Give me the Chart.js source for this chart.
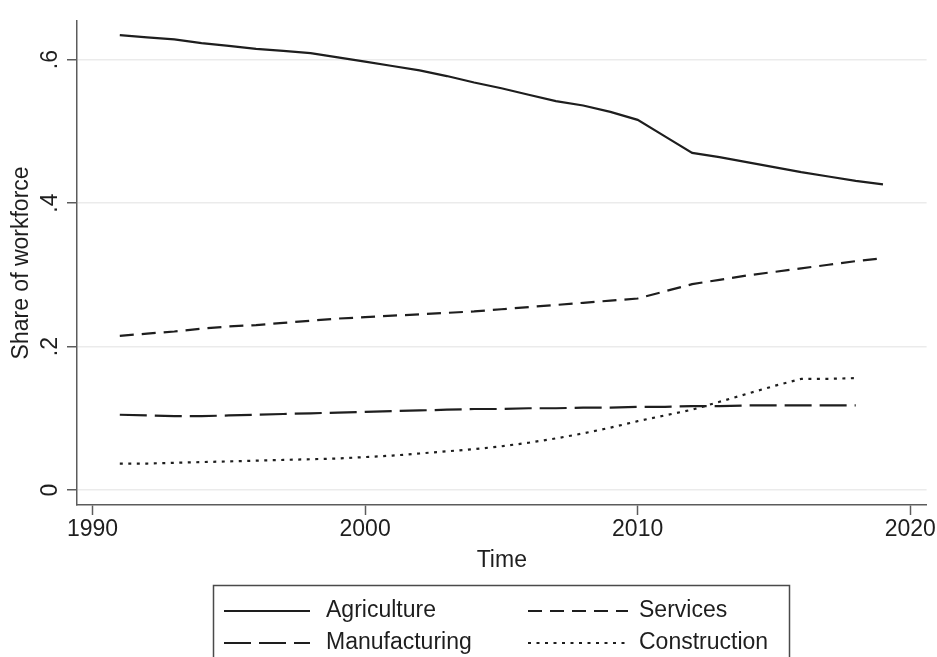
<!DOCTYPE html>
<html>
<head>
<meta charset="utf-8">
<title>Share of workforce by sector</title>
<script src="https://cdn.jsdelivr.net/npm/chart.js@4.4.1/dist/chart.umd.min.js"></script>
<style>
  html, body { margin: 0; padding: 0; background: #ffffff; }
  #wrap { width: 937px; height: 657px; overflow: hidden; }
  canvas { display: block; }
</style>
</head>
<body>
<div id="wrap"><canvas id="chart" width="937" height="657" style="width:937px;height:657px"></canvas></div>
<script>
// Sector shares of the workforce, 1991-2019
const years = [1991, 1992, 1993, 1994, 1995, 1996, 1997, 1998, 1999, 2000,
               2001, 2002, 2003, 2004, 2005, 2006, 2007, 2008, 2009, 2010,
               2011, 2012, 2013, 2014, 2015, 2016, 2017, 2018, 2019];

const agriculture = [0.634, 0.631, 0.628, 0.623, 0.619, 0.615, 0.612, 0.609, 0.603, 0.597,
                     0.591, 0.585, 0.577, 0.568, 0.560, 0.551, 0.542, 0.536, 0.527, 0.516,
                     0.493, 0.470, 0.464, 0.457, 0.450, 0.443, 0.437, 0.431, 0.426];

const services = [0.215, 0.218, 0.221, 0.225, 0.228, 0.230, 0.233, 0.236, 0.239, 0.241,
                  0.243, 0.245, 0.247, 0.249, 0.252, 0.255, 0.258, 0.261, 0.264, 0.267,
                  0.277, 0.287, 0.293, 0.299, 0.304, 0.309, 0.314, 0.319, 0.323];

const manufacturing = [0.105, 0.104, 0.103, 0.103, 0.104, 0.105, 0.106, 0.107, 0.108, 0.109,
                       0.110, 0.111, 0.112, 0.113, 0.113, 0.114, 0.114, 0.115, 0.115, 0.116,
                       0.116, 0.117, 0.117, 0.118, 0.118, 0.118, 0.118, 0.118];

const construction = [0.037, 0.037, 0.038, 0.039, 0.040, 0.041, 0.042, 0.043, 0.044, 0.046,
                      0.048, 0.051, 0.054, 0.057, 0.061, 0.066, 0.072, 0.079, 0.087, 0.096,
                      0.104, 0.112, 0.123, 0.134, 0.145, 0.155, 0.155, 0.156];

const seriesNames = ['Agriculture', 'Services', 'Manufacturing', 'Construction'];

const xTickValues = [1990, 2000, 2010, 2020];
const yTickValues = [0, 0.2, 0.4, 0.6];
const yTickLabels = ['0', '.2', '.4', '.6'];

const FONT = "'Liberation Sans', Arial, Helvetica, sans-serif";
const INK = '#1e1e1e';
const AXIS = '#5c5c5c';

function points(values) {
  return values.map((v, i) => ({ x: years[i], y: v }));
}

function lineSet(label, values, dash) {
  return {
    label: label,
    data: points(values),
    borderColor: INK,
    borderWidth: 2.2,
    borderDash: dash,
    borderCapStyle: 'butt',
    pointRadius: 0,
    pointHoverRadius: 0,
    tension: 0,
    fill: false
  };
}

// Boxed two-column legend under the plot, styled from each dataset
const boxedLegend = {
  id: 'boxedLegend',
  afterDraw(chart, args, opts) {
    const ctx = chart.ctx;
    ctx.save();
    ctx.setLineDash([]);
    ctx.lineWidth = 1.5;
    ctx.strokeStyle = '#4a4a4a';
    ctx.strokeRect(opts.left, opts.top, opts.width, opts.height);
    chart.data.datasets.forEach((ds, i) => {
      const col = i % 2;
      const row = Math.floor(i / 2);
      const y = opts.rowY[row];
      ctx.save();
      ctx.lineWidth = ds.borderWidth;
      ctx.strokeStyle = ds.borderColor;
      ctx.lineCap = 'butt';
      ctx.setLineDash(ds.borderDash || []);
      ctx.beginPath();
      ctx.moveTo(opts.lineX[col][0], y);
      ctx.lineTo(opts.lineX[col][1], y);
      ctx.stroke();
      ctx.restore();
      ctx.fillStyle = INK;
      ctx.font = '23px ' + FONT;
      ctx.textAlign = 'left';
      ctx.textBaseline = 'middle';
      ctx.fillText(ds.label, opts.textX[col], y);
    });
    ctx.restore();
  }
};

new Chart(document.getElementById('chart'), {
  type: 'line',
  data: {
    datasets: [
      lineSet(seriesNames[0], agriculture, []),
      lineSet(seriesNames[1], services, [14, 8]),
      lineSet(seriesNames[2], manufacturing, [27, 8]),
      lineSet(seriesNames[3], construction, [3, 5.5])
    ]
  },
  options: {
    responsive: false,
    devicePixelRatio: 1,
    animation: false,
    events: [],
    layout: { padding: { top: 18, right: 10, bottom: 80, left: 0 } },
    plugins: {
      legend: { display: false },
      tooltip: { enabled: false },
      boxedLegend: {
        left: 213.5, top: 585.5, width: 576, height: 100,
        rowY: [611, 643],
        lineX: [[224, 310], [528, 628]],
        textX: [326, 639]
      }
    },
    scales: {
      x: {
        type: 'linear',
        min: 1989.43,
        max: 2020.6,
        afterBuildTicks: (scale) => { scale.ticks = xTickValues.map(v => ({ value: v })); },
        afterFit: (scale) => { scale.height = 72; },
        ticks: {
          color: INK,
          font: { family: FONT, size: 23 },
          padding: 1,
          maxRotation: 0,
          minRotation: 0,
          callback: (v) => String(v)
        },
        grid: {
          display: true,
          drawOnChartArea: false,
          drawTicks: true,
          tickLength: 10,
          tickColor: AXIS,
          tickWidth: 1.5
        },
        border: { display: true, color: AXIS, width: 1.5 },
        title: {
          display: true,
          text: 'Time',
          color: INK,
          font: { family: FONT, size: 23 },
          padding: { top: 0, bottom: 3 }
        }
      },
      y: {
        type: 'linear',
        min: -0.0208,
        max: 0.654,
        afterBuildTicks: (scale) => { scale.ticks = yTickValues.map(v => ({ value: v })); },
        afterFit: (scale) => { scale.width = 77; },
        ticks: {
          color: INK,
          font: { family: FONT, size: 23 },
          padding: 7,
          minRotation: 90,
          maxRotation: 90,
          crossAlign: 'center',
          callback: (v) => {
            const k = yTickValues.findIndex(t => Math.abs(t - v) < 1e-9);
            return k >= 0 ? yTickLabels[k] : '';
          }
        },
        grid: {
          display: true,
          drawOnChartArea: true,
          drawTicks: true,
          tickLength: 10,
          color: '#ebebeb',
          lineWidth: 1.5,
          tickColor: AXIS,
          tickWidth: 1.5
        },
        border: { display: true, color: AXIS, width: 1.5 },
        title: {
          display: true,
          text: 'Share of workforce',
          color: INK,
          font: { family: FONT, size: 23 },
          padding: { top: 8, bottom: 0 }
        }
      }
    }
  },
  plugins: [boxedLegend]
});
</script>
</body>
</html>
